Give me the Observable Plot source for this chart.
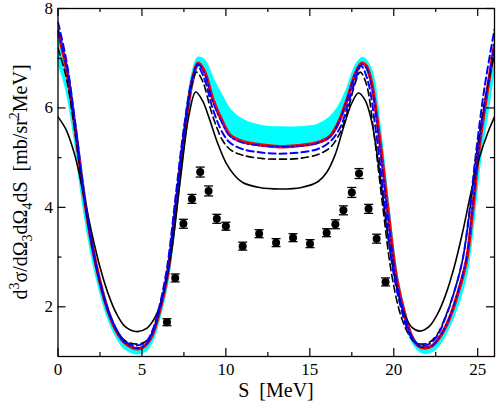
<!DOCTYPE html>
<html><head><meta charset="utf-8">
<script src="https://cdn.jsdelivr.net/npm/d3@7"></script>
<script src="https://cdn.jsdelivr.net/npm/@observablehq/plot@0.6"></script>
<style>
body{margin:0;background:#fff}
svg{display:block}
svg text, svg tspan { font-family: "Liberation Serif", "Times New Roman", "DejaVu Serif", serif !important; }
</style>
</head><body><div id="chart"></div>
<script>
// tick values
const xTicks = [0, 5, 10, 15, 20, 25];
const xMinor = [2.5, 7.5, 12.5, 17.5, 22.5];
const yTicks = [2, 4, 6, 8];
const yMinor = [3, 5, 7];

// cyan band: [S, lower, upper]
const cyanBand = [[0,6.95,7.5],[0.5,6.4,6.85],[1,5.4,5.7],[1.5,4.1,4.4],[2,3.1,3.3],[2.5,2.35,2.5],[3,1.78,1.9],[3.5,1.4,1.5],[4,1.17,1.27],[4.7,1.07,1.16],[5.2,1.12,1.22],[5.6,1.32,1.42],[6,1.75,1.85],[6.5,2.5,2.6],[7,3.85,3.95],[7.5,5.3,5.45],[8,6.5,6.65],[8.35,6.85,7.0],[8.7,6.8,6.95],[9.25,6.2,6.55],[9.8,5.8,6.2],[10.25,5.5,5.95],[11,5.35,5.75],[12.2,5.28,5.62],[13.2,5.27,5.6],[14.25,5.28,5.6],[15.45,5.34,5.65],[16.2,5.45,5.8],[16.7,5.7,6.0],[17.2,6.15,6.35],[17.75,6.7,6.85],[18.15,6.9,7.0],[18.65,6.55,6.75],[19.15,5.4,5.6],[19.65,3.9,4.05],[20.15,2.55,2.65],[20.65,1.8,1.88],[21.05,1.35,1.42],[21.45,1.15,1.22],[21.8,1.08,1.15],[22.3,1.12,1.2],[22.8,1.3,1.4],[23.3,1.62,1.75],[23.8,2.05,2.2],[24.33,2.7,2.9],[24.7,3.65,3.9],[25.1,4.9,5.2],[25.55,5.9,6.25],[26,6.9,7.2]];

// red solid (thick)
const redLine = [[0,7.55],[0.5,6.8],[1,5.65],[1.5,4.35],[2,3.3],[2.5,2.5],[3,1.9],[3.5,1.5],[4,1.27],[4.5,1.17],[4.85,1.16],[5.2,1.22],[5.6,1.42],[6,1.85],[6.5,2.6],[7,3.95],[7.5,5.4],[8,6.55],[8.35,6.9],[8.7,6.75],[9.25,6.15],[9.8,5.72],[10.25,5.45],[11,5.32],[12.2,5.25],[13.2,5.22],[14.25,5.24],[15.45,5.3],[16.2,5.43],[16.7,5.7],[17.2,6.15],[17.75,6.72],[18.1,6.9],[18.35,6.85],[18.65,6.55],[19.15,5.4],[19.65,3.95],[20.15,2.6],[20.65,1.85],[21.05,1.42],[21.45,1.22],[21.85,1.17],[22.3,1.22],[22.8,1.42],[23.3,1.75],[23.8,2.25],[24.33,2.93],[24.7,3.95],[25.1,5.25],[25.55,6.3],[26,7.26]];

// blue dash-dot (on the red)
const blueDashDot = [[0,7.55],[0.5,6.82],[1,5.68],[1.5,4.37],[2,3.3],[2.5,2.5],[3,1.9],[3.5,1.5],[4,1.27],[4.5,1.18],[4.8,1.17],[5.2,1.23],[5.6,1.44],[6,1.88],[6.5,2.65],[7,4.0],[7.5,5.45],[8,6.57],[8.33,6.88],[8.7,6.72],[9.25,6.1],[9.8,5.68],[10.25,5.43],[11,5.3],[12.2,5.24],[13.2,5.22],[14.25,5.23],[15.45,5.29],[16.2,5.42],[16.7,5.69],[17.2,6.15],[17.75,6.72],[18.08,6.88],[18.35,6.82],[18.65,6.5],[19.15,5.3],[19.65,3.85],[20.15,2.55],[20.65,1.83],[21.05,1.42],[21.45,1.22],[21.8,1.18],[22.3,1.22],[22.8,1.43],[23.3,1.77],[23.8,2.28],[24.33,2.98],[24.7,4.02],[25.1,5.3],[25.55,6.35],[26,7.3]];

// blue dashed
const blueDashed = [[0,7.72],[0.5,6.95],[1,5.75],[1.5,4.4],[2,3.3],[2.5,2.5],[3,1.92],[3.5,1.53],[4,1.3],[4.6,1.22],[5.2,1.28],[5.6,1.5],[6,1.95],[6.5,2.8],[7,4.2],[7.5,5.6],[8,6.6],[8.3,6.85],[8.7,6.6],[9.25,5.95],[9.8,5.5],[10.25,5.3],[11,5.17],[12.2,5.1],[13.2,5.08],[14.25,5.1],[15.45,5.17],[16.2,5.32],[16.8,5.6],[17.3,6.1],[17.75,6.6],[18.05,6.85],[18.45,6.55],[18.95,5.5],[19.45,4.1],[19.95,2.75],[20.45,1.95],[20.85,1.52],[21.25,1.3],[21.6,1.22],[22.1,1.25],[22.6,1.42],[23.1,1.8],[23.6,2.3],[24.1,2.95],[24.5,3.9],[24.9,5.1],[25.4,6.4],[26,7.58]];

// black dashed
const blackDashed = [[0,7.2],[0.5,6.6],[1,5.55],[1.5,4.3],[2,3.25],[2.5,2.48],[3,1.9],[3.5,1.53],[4,1.32],[4.7,1.25],[5.3,1.32],[5.7,1.55],[6.1,2.0],[6.6,2.9],[7.1,4.3],[7.6,5.7],[8,6.5],[8.25,6.72],[8.6,6.55],[9.2,5.85],[9.8,5.35],[10.3,5.15],[11,5.05],[12.2,4.98],[13.2,4.97],[14.25,4.98],[15.45,5.06],[16.2,5.2],[16.8,5.5],[17.3,6.0],[17.7,6.5],[18.0,6.72],[18.35,6.5],[18.85,5.4],[19.35,4.0],[19.85,2.7],[20.35,1.9],[20.8,1.5],[21.2,1.3],[21.6,1.25],[22.1,1.28],[22.6,1.45],[23.1,1.82],[23.6,2.3],[24.1,2.95],[24.5,3.85],[24.9,5.0],[25.4,6.1],[26,7.1]];

// black solid (thin)
const blackSolid = [[0,5.82],[0.5,5.55],[1,5.05],[1.5,4.3],[2,3.5],[2.5,2.8],[3,2.25],[3.5,1.85],[4,1.6],[4.7,1.5],[5.3,1.57],[5.8,1.8],[6.3,2.3],[6.8,3.2],[7.3,4.6],[7.8,5.85],[8.2,6.32],[8.6,6.15],[9,5.8],[9.5,5.3],[10,4.9],[10.5,4.65],[11,4.5],[12,4.4],[13.2,4.37],[14.5,4.4],[15.5,4.52],[16,4.7],[16.5,5.05],[17,5.6],[17.5,6.1],[17.9,6.3],[18.3,6.15],[18.7,5.7],[19.2,4.6],[19.7,3.3],[20.2,2.35],[20.7,1.8],[21.1,1.58],[21.55,1.51],[22.1,1.6],[22.6,1.85],[23.1,2.25],[23.6,2.8],[24.1,3.5],[24.6,4.3],[25.1,5.0],[25.6,5.5],[26,5.82]];

// experimental points: [S, value, error]
const expPoints = [[6.49,1.69,0.07],[6.98,2.58,0.08],[7.47,3.67,0.09],[7.98,4.17,0.09],[8.47,4.71,0.1],[8.97,4.33,0.1],[9.46,3.77,0.09],[10.0,3.62,0.08],[11.0,3.22,0.08],[11.98,3.47,0.08],[12.99,3.29,0.08],[14.0,3.39,0.08],[15.01,3.27,0.08],[16.0,3.49,0.08],[16.52,3.66,0.09],[17.0,3.94,0.09],[17.5,4.30,0.1],[17.93,4.68,0.1],[18.5,3.97,0.09],[18.98,3.37,0.09],[19.51,2.50,0.08]];

const W = 498, H = 403, mL = 57.5, mR = 4, mT = 8, mB = 47;
const pw = W - mL - mR, ph = H - mT - mB;
const sx = d => d[0];
const cr = "catmull-rom";
const capSymbol = {draw(ctx, size) { const r = Math.sqrt(size / Math.PI); ctx.moveTo(-r, 0); ctx.lineTo(r, 0); }};
const serif = "Liberation Serif, Times New Roman, DejaVu Serif, serif";

const chart = Plot.plot({
  width: W, height: H,
  marginLeft: mL, marginRight: mR, marginTop: mT, marginBottom: mB,
  x: {domain: [0, 26]},
  y: {domain: [1, 8]},
  style: {fontFamily: serif, fontSize: "17px", background: "#fff", color: "#000"},
  marks: [
    Plot.areaY(cyanBand, {x: sx, y1: d => d[1], y2: d => d[2], fill: "#00ffff", curve: cr, clip: true}),
    Plot.line(cyanBand, {x: sx, y: d => d[1], stroke: "#00ffff", strokeWidth: 3, curve: cr, clip: true}),
    Plot.line(cyanBand, {x: sx, y: d => d[2], stroke: "#00ffff", strokeWidth: 3, curve: cr, clip: true}),
    Plot.line(redLine, {x: sx, y: d => d[1], stroke: "#ff0000", strokeWidth: 3.4, curve: cr, clip: true}),
    Plot.line(blackSolid, {x: sx, y: d => d[1], stroke: "#000", strokeWidth: 1.6, curve: cr, clip: true}),
    Plot.line(blackDashed, {x: sx, y: d => d[1], stroke: "#000", strokeWidth: 1.6, strokeDasharray: "7,4", curve: cr, clip: true}),
    Plot.line(blueDashed, {x: sx, y: d => d[1], stroke: "#0000ff", strokeWidth: 2, strokeDasharray: "7,4", curve: cr, clip: true}),
    Plot.line(blueDashDot, {x: sx, y: d => d[1], stroke: "#0000ff", strokeWidth: 1.6, strokeDasharray: "7,3,2,3", curve: cr, clip: true}),
    Plot.link(expPoints, {x1: sx, x2: sx, y1: d => d[1] - d[2], y2: d => d[1] + d[2], stroke: "#000", strokeWidth: 1.3}),
    Plot.dot(expPoints, {x: sx, y: d => d[1] + d[2], symbol: capSymbol, r: 4.5, stroke: "#000", strokeWidth: 1.3, fill: "none"}),
    Plot.dot(expPoints, {x: sx, y: d => d[1] - d[2], symbol: capSymbol, r: 4.5, stroke: "#000", strokeWidth: 1.3, fill: "none"}),
    Plot.dot(expPoints, {x: sx, y: d => d[1], r: 4, fill: "#000", stroke: "none"}),
    // inward ticks
    Plot.tickX(xTicks, {x: d => d, insetTop: ph - 8, stroke: "#000", strokeWidth: 1.2}),
    Plot.tickX(xTicks, {x: d => d, insetBottom: ph - 8, stroke: "#000", strokeWidth: 1.2}),
    Plot.tickX(xMinor, {x: d => d, insetTop: ph - 4, stroke: "#000", strokeWidth: 1.2}),
    Plot.tickX(xMinor, {x: d => d, insetBottom: ph - 4, stroke: "#000", strokeWidth: 1.2}),
    Plot.tickY(yTicks, {y: d => d, insetRight: pw - 8, stroke: "#000", strokeWidth: 1.2}),
    Plot.tickY(yTicks, {y: d => d, insetLeft: pw - 8, stroke: "#000", strokeWidth: 1.2}),
    Plot.tickY(yMinor, {y: d => d, insetRight: pw - 4, stroke: "#000", strokeWidth: 1.2}),
    Plot.tickY(yMinor, {y: d => d, insetLeft: pw - 4, stroke: "#000", strokeWidth: 1.2}),
    Plot.frame({stroke: "#000", strokeWidth: 1.3}),
    Plot.axisX(xTicks, {tickSize: 0, tickPadding: 6, label: null, fontSize: 17, tickFormat: d3.format("d"), fill: "#000"}),
    Plot.axisY(yTicks, {tickSize: 0, tickPadding: 5, label: null, fontSize: 17, tickFormat: d3.format("d"), fill: "#000"})
  ]
});

const svg = d3.select(chart);
svg.append("text")
  .attr("x", 276).attr("y", 397)
  .attr("text-anchor", "middle")
  .attr("font-size", 20)
  .attr("font-family", serif)
  .attr("fill", "#000")
  .text("S\u00a0\u00a0[MeV]");

const yl = svg.append("text")
  .attr("transform", "translate(27,182) rotate(-90)")
  .attr("text-anchor", "middle")
  .attr("font-size", 20)
  .attr("font-family", serif)
  .attr("fill", "#000");
yl.append("tspan").text("d");
yl.append("tspan").attr("dy", -8).attr("font-size", 14).text("3");
yl.append("tspan").attr("dy", 8).text("σ/dΩ");
yl.append("tspan").attr("dy", 5).attr("font-size", 14).text("3");
yl.append("tspan").attr("dy", -5).text("dΩ");
yl.append("tspan").attr("dy", 5).attr("font-size", 14).text("4");
yl.append("tspan").attr("dy", -5).text("dS\u00a0\u00a0[mb/sr");
yl.append("tspan").attr("dy", -8).attr("font-size", 14).text("2");
yl.append("tspan").attr("dy", 8).text("MeV]");

document.getElementById("chart").append(chart);
</script>
</body></html>
